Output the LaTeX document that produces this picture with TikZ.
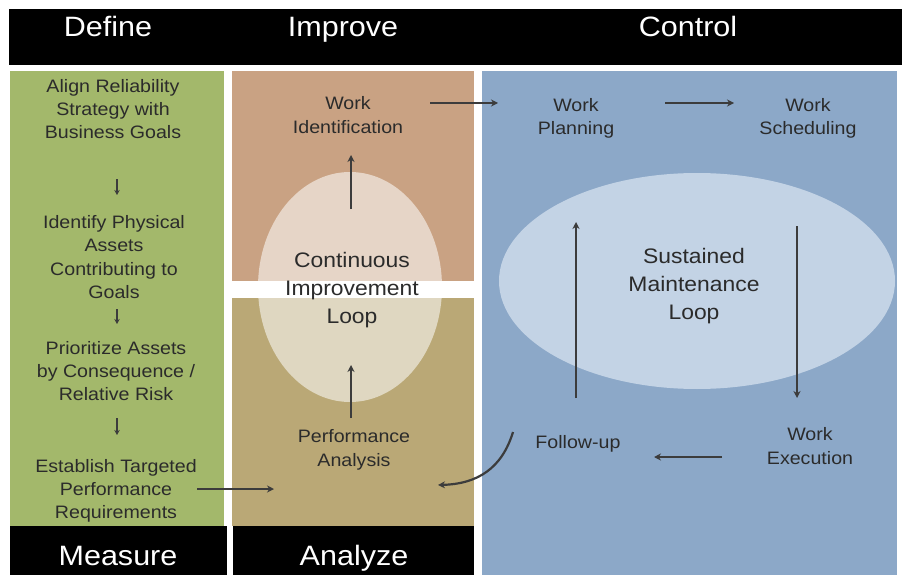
\documentclass[tikz,border=0pt]{standalone}
\usepackage{fontspec}
\setmainfont{Liberation Sans}[FakeStretch=1.09]
\usetikzlibrary{arrows.meta}
\definecolor{hdr}{HTML}{000000}
\definecolor{dgreen}{HTML}{A3B86B}
\definecolor{dbrown}{HTML}{C9A283}
\definecolor{dolive}{HTML}{BAA876}
\definecolor{dblue}{HTML}{8CA8C8}
\definecolor{eblue}{HTML}{C3D3E5}
\definecolor{txt}{HTML}{2B2B2B}
\definecolor{arrc}{HTML}{3C3C3C}
\tikzset{
  hdrtext/.style={text=white, font=\fontsize{28}{34}\selectfont, inner sep=0pt, anchor=base},
  body/.style={text=txt, align=center, font=\fontsize{18}{23.3}\selectfont, inner sep=0pt},
  loopt/.style={text=txt, align=center, font=\fontsize{21}{28}\selectfont, inner sep=0pt},
  arr/.style={draw=arrc, line width=2.2pt, -{Stealth[length=7pt,width=7pt]}},
  smallarr/.style={draw=arrc, line width=1.6pt, -{Stealth[length=5pt,width=5.5pt]}},
}
\begin{document}
\begin{tikzpicture}[x=1pt,y=-1pt]
\useasboundingbox (0,0) rectangle (902,575);
\fill[white] (0,0) rectangle (902,575);
% header bar
\fill[hdr] (9,9) rectangle (902,65);
% panels
\fill[dgreen] (10,71) rectangle (224,526);
\fill[dbrown] (232,71) rectangle (474,281);
\fill[dolive] (232,298) rectangle (474,526);
\fill[dblue] (482,71) rectangle (897,575);
% bottom bars
\fill[hdr] (10,526) rectangle (227,575);
\fill[hdr] (233,526) rectangle (474,575);
% ellipses
\fill[white, opacity=0.55] (350,287) ellipse [x radius=92, y radius=115];
\fill[eblue] (697,281) ellipse [x radius=198, y radius=108];
% headers
\node[hdrtext] (hdef) at (108,37) {Define};
\node[hdrtext] (himp) at (343,37) {Improve};
\node[hdrtext] (hcon) at (688,37) {Control};
\node[hdrtext] (hmea) at (118,565) {Measure};
\node[hdrtext] (hana) at (354,565) {Analyze};
% define column
\node[body] (d1) at (113,109) {Align Reliability\\Strategy with\\Business Goals};
\node[body] (d2) at (114,257) {Identify Physical\\Assets\\Contributing to\\Goals};
\node[body] (d3) at (116,371) {Prioritize Assets\\by Consequence /\\Relative Risk};
\node[body] (d4) at (116,491) {Establish Targeted\\Performance\\Requirements};
\coordinate (s1a) at (117,179); \coordinate (s1b) at (117,195);
\coordinate (s2a) at (117,309); \coordinate (s2b) at (117,324);
\coordinate (s3a) at (117,418); \coordinate (s3b) at (117,435);
\draw[smallarr] (s1a) -- (s1b);
\draw[smallarr] (s2a) -- (s2b);
\draw[smallarr] (s3a) -- (s3b);
% improve column
\node[body] (wi) at (348,115) {Work\\Identification};
\node[loopt] (cil) at (352,290) {Continuous\\Improvement\\Loop};
\node[body] (pa) at (354,450) {Performance\\Analysis};
% control column
\node[body] (wp) at (576,118) {Work\\Planning};
\node[body] (ws) at (808,118) {Work\\Scheduling};
\node[loopt] (sml) at (694,286) {Sustained\\Maintenance\\Loop};
\node[body] (we) at (810,446) {Work\\Execution};
\node[body] (fu) at (578,444) {Follow-up};
% arrow end points
\coordinate (e4a) at (197,489); \coordinate (e4b) at (274,489);
\coordinate (i1a) at (351,209); \coordinate (i1b) at (351,155);
\coordinate (i2a) at (351,418); \coordinate (i2b) at (351,365);
\coordinate (c1a) at (430,103); \coordinate (c1b) at (498,103);
\coordinate (c2a) at (665,103); \coordinate (c2b) at (734,103);
\coordinate (c3a) at (797,226); \coordinate (c3b) at (797,398);
\coordinate (c4a) at (722,457); \coordinate (c4b) at (654,457);
\coordinate (c5a) at (576,398); \coordinate (c5b) at (576,222);
\coordinate (c6a) at (513,432); \coordinate (c6b) at (438,485);
\draw[arr] (e4a) -- (e4b);
\draw[arr] (i1a) -- (i1b);
\draw[arr] (i2a) -- (i2b);
\draw[arr] (c1a) -- (c1b);
\draw[arr] (c2a) -- (c2b);
\draw[arr] (c3a) -- (c3b);
\draw[arr] (c4a) -- (c4b);
\draw[arr] (c5a) -- (c5b);
\draw[arr] (c6a) .. controls (502,468) and (478,484) .. (c6b);
\end{tikzpicture}
\end{document}
